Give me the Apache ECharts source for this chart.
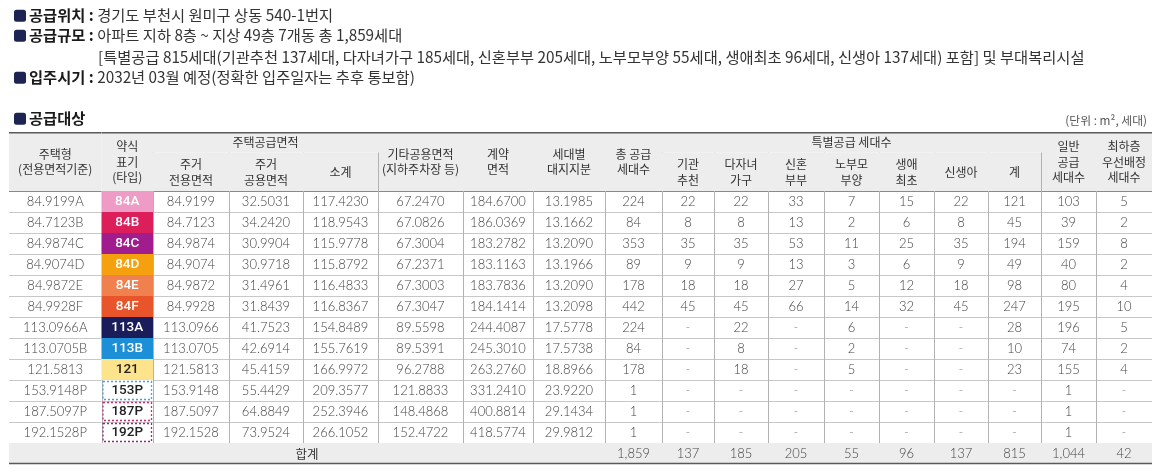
<!DOCTYPE html>
<html>
<head>
<meta charset="utf-8">
<script src="https://cdn.jsdelivr.net/npm/echarts@6/dist/echarts.min.js"></script>
<style>
  html, body { margin: 0; padding: 0; background: #fff; }
  #main { width: 1160px; height: 472px; }
</style>
</head>
<body>
<div id="main"></div>
<script>
// ---- 데이터 ----
const typeNames = ["84.9199A", "84.7123B", "84.9874C", "84.9074D", "84.9872E", "84.9928F",
  "113.0966A", "113.0705B", "121.5813", "153.9148P", "187.5097P", "192.1528P"];
const typeLabels = ["84A", "84B", "84C", "84D", "84E", "84F", "113A", "113B", "121", "153P", "187P", "192P"];
const privArea = [84.9199, 84.7123, 84.9874, 84.9074, 84.9872, 84.9928, 113.0966, 113.0705, 121.5813, 153.9148, 187.5097, 192.1528];
const commonArea = [32.5031, 34.2420, 30.9904, 30.9718, 31.4961, 31.8439, 41.7523, 42.6914, 45.4159, 55.4429, 64.8849, 73.9524];
const subTotal = [117.4230, 118.9543, 115.9778, 115.8792, 116.4833, 116.8367, 154.8489, 155.7619, 166.9972, 209.3577, 252.3946, 266.1052];
const otherCommon = [67.2470, 67.0826, 67.3004, 67.2371, 67.3003, 67.3047, 89.5598, 89.5391, 96.2788, 121.8833, 148.4868, 152.4722];
const contractArea = [184.6700, 186.0369, 183.2782, 183.1163, 183.7836, 184.1414, 244.4087, 245.3010, 263.2760, 331.2410, 400.8814, 418.5774];
const landShare = [13.1985, 13.1662, 13.2090, 13.1966, 13.2090, 13.2098, 17.5778, 17.5738, 18.8966, 23.9220, 29.1434, 29.9812];
const totalUnits = [224, 84, 353, 89, 178, 442, 224, 84, 178, 1, 1, 1];
const institution = [22, 8, 35, 9, 18, 45, null, null, null, null, null, null];
const multiChild = [22, 8, 35, 9, 18, 45, 22, 8, 18, null, null, null];
const newlywed = [33, 13, 53, 13, 27, 66, null, null, null, null, null, null];
const elderly = [7, 2, 11, 3, 5, 14, 6, 2, 5, null, null, null];
const firstLife = [15, 6, 25, 6, 12, 32, null, null, null, null, null, null];
const newborn = [22, 8, 35, 9, 18, 45, null, null, null, null, null, null];
const specialSum = [121, 45, 194, 49, 98, 247, 28, 10, 23, null, null, null];
const generalUnits = [103, 39, 159, 40, 80, 195, 196, 74, 155, 1, 1, 1];
const lowFloor = [5, 2, 8, 2, 4, 10, 5, 2, 4, null, null, null];
const sumRow = [1859, 137, 185, 205, 55, 96, 137, 815, 1044, 42];

const headMain = ["주택형\n(전용면적기준)", "약식\n표기\n(타입)", "주택공급면적", "기타공용면적\n(지하주차장 등)",
  "계약\n면적", "세대별\n대지지분", "총 공급\n세대수", "특별공급 세대수", "일반\n공급\n세대수", "최하층\n우선배정\n세대수"];
const headSub = ["주거\n전용면적", "주거\n공용면적", "소계",
  "기관\n추천", "다자녀\n가구", "신혼\n부부", "노부모\n부양", "생애\n최초", "신생아", "계"];

// ---- 레이아웃 ----
const colEdges = [0, 92.5, 144, 220, 294, 369, 454, 524, 596, 653, 705, 759, 815, 870, 925, 979, 1032, 1087, 1143];
const rowHeights = [20.5, 38.5, 21, 21, 21, 21, 21, 21, 21, 21, 21, 21, 21, 21, 20.5];
const rowEdges = [0];
rowHeights.forEach((h, i) => rowEdges.push(rowEdges[i] + h));
const nCol = colEdges.length - 1;

const typeStyle = [
  { bg: "#ee9cc6", color: "#fff" }, { bg: "#dc1f5b", color: "#fff" }, { bg: "#a11c8c", color: "#fff" },
  { bg: "#f5a00f", color: "#fff" }, { bg: "#f0814f", color: "#fff" }, { bg: "#e9552b", color: "#fff" },
  { bg: "#1b1d5a", color: "#fff" }, { bg: "#1d8fd6", color: "#fff" }, { bg: "#fde38c", color: "#222" },
  { dash: "#4aa3d8", color: "#222" }, { dash: "#c0306a", color: "#222" }, { dash: "#8b2a78", color: "#222" }
];

const KR = '"Noto Sans CJK KR"';
const headFont = "12px " + KR;
const numFont = '300 13px Lato, ' + KR;
const typeFont = '500 13.5px Roboto, ' + KR;

// ---- 셀 구성 ----
const cells = [];
function addCell(c0, c1, r0, r1, text, opt) {
  cells.push(Object.assign({ c0, c1, r0, r1, text }, opt));
}
const HEAD = { bg: "#ededed", font: headFont, color: "#333", lh: 15.5, kind: "head" };
// 머리글
addCell(0, 1, 0, 2, headMain[0], HEAD);
addCell(1, 2, 0, 2, headMain[1], HEAD);
addCell(2, 5, 0, 1, headMain[2], HEAD);
addCell(5, 6, 0, 2, headMain[3], HEAD);
addCell(6, 7, 0, 2, headMain[4], HEAD);
addCell(7, 8, 0, 2, headMain[5], HEAD);
addCell(8, 9, 0, 2, headMain[6], HEAD);
addCell(9, 16, 0, 1, headMain[7], HEAD);
addCell(16, 17, 0, 2, headMain[8], HEAD);
addCell(17, 18, 0, 2, headMain[9], HEAD);
[2, 3, 4].forEach((c, i) => addCell(c, c + 1, 1, 2, headSub[i], HEAD));
[9, 10, 11, 12, 13, 14, 15].forEach((c, i) => addCell(c, c + 1, 1, 2, headSub[i + 3], HEAD));

// 본문
const fmt4 = v => v.toFixed(4);
const fmtN = v => (v === null ? "-" : v.toLocaleString("en-US"));
const bodyCols = [
  typeNames, null, privArea.map(fmt4), commonArea.map(fmt4), subTotal.map(fmt4), otherCommon.map(fmt4),
  contractArea.map(fmt4), landShare.map(fmt4), totalUnits.map(fmtN), institution.map(fmtN), multiChild.map(fmtN),
  newlywed.map(fmtN), elderly.map(fmtN), firstLife.map(fmtN), newborn.map(fmtN), specialSum.map(fmtN),
  generalUnits.map(fmtN), lowFloor.map(fmtN)
];
typeNames.forEach((name, i) => {
  const r = i + 2;
  bodyCols.forEach((col, c) => {
    if (c === 1) {
      const st = typeStyle[i];
      addCell(c, c + 1, r, r + 1, typeLabels[i],
        { bg: st.bg, dash: st.dash, color: st.color, font: typeFont, kind: "type" });
    } else {
      const t = col[i];
      addCell(c, c + 1, r, r + 1, t,
        { font: numFont, color: t === "-" ? "#888" : "#444", kind: "body" });
    }
  });
});

// 합계
addCell(0, 8, 14, 15, "합계", { bg: "#ededed", font: "12.5px " + KR, color: "#333", kind: "total" });
sumRow.forEach((v, i) => addCell(8 + i, 9 + i, 14, 15, fmtN(v),
  { bg: "#ededed", font: numFont, color: "#444", kind: "total" }));

// ---- 렌더링 ----
const px = v => Math.round(v) + 0.5;
function line(x1, y1, x2, y2, stroke, w) {
  return { type: "line", shape: { x1, y1, x2, y2 }, style: { stroke, lineWidth: w } };
}
function renderCell(params, api) {
  const cell = cells[params.dataIndex];
  const a = api.coord([colEdges[api.value(0)], rowEdges[api.value(2)]]);
  const b = api.coord([colEdges[api.value(1)], rowEdges[api.value(3)]]);
  const x = a[0], y = a[1], w = b[0] - a[0], h = b[1] - a[1];
  const ch = [];
  if (cell.bg) ch.push({ type: "rect", shape: { x, y, width: w, height: h }, style: { fill: cell.bg } });
  if (cell.dash) {
    ch.push({ type: "rect", shape: { x: x + 1.5, y: y + 1.5, width: w - 3, height: h - 3 },
      style: { fill: "#fff", stroke: cell.dash, lineWidth: 1.3, lineDash: [2, 2] } });
  }
  if (cell.c1 < nCol) ch.push(line(px(x + w), y, px(x + w), y + h, "#b2b2b2", 1));
  let bColor = "#c8c8c8", bW = 1;
  if (cell.kind === "head") bColor = cell.r1 === 1 ? "#c2c2c2" : "#8a8a8a";
  if (cell.kind === "body" && cell.r1 === 14) bColor = "#8a8a8a";
  if (cell.kind === "type") bColor = cell.r1 === 14 ? "#8a8a8a" : (cell.bg ? "rgba(255,255,255,0.55)" : "#c8c8c8");
  if (cell.kind === "total") { bColor = "#5a5a5a"; bW = 1.6; }
  ch.push(line(x, bW === 1 ? px(y + h) : y + h, x + w, bW === 1 ? px(y + h) : y + h, bColor, bW));
  if (cell.r0 === 0) ch.push(line(x, y + 0.8, x + w, y + 0.8, "#5a5a5a", 1.6));
  ch.push({
    type: "text",
    style: {
      text: cell.text, x: x + w / 2, y: y + h / 2 + 0.5, align: "center", verticalAlign: "middle",
      fill: cell.color, font: cell.font, lineHeight: cell.lh || 15
    }
  });
  return { type: "group", children: ch };
}

// ---- 제목 ----
const TOP_SIZE = 15.3;
const bullet = { backgroundColor: "#1d2452", width: 12, height: 12, borderRadius: 2.5 };
const lbl = { fontWeight: "bold", color: "#1a1a1a", fontSize: TOP_SIZE, fontFamily: KR, padding: [0, 0, 0, 3] };
function infoTitle(top, left, text) {
  return {
    left, top, text,
    textStyle: { fontSize: TOP_SIZE, fontFamily: KR, color: "#333", fontWeight: "normal", rich: { b: bullet, l: lbl } }
  };
}

let chartDom = document.getElementById("main");
let myChart = echarts.init(chartDom);
let option = {
  animation: false,
  title: [
    infoTitle(3, 9, "{b| }{l|공급위치 :} 경기도 부천시 원미구 상동 540-1번지"),
    infoTitle(23, 9, "{b| }{l|공급규모 :} 아파트 지하 8층 ~ 지상 49층 7개동 총 1,859세대"),
    infoTitle(45, 93, "[특별공급 815세대(기관추천 137세대, 다자녀가구 185세대, 신혼부부 205세대, 노부모부양 55세대, 생애최초 96세대, 신생아 137세대) 포함] 및 부대복리시설"),
    infoTitle(65, 9, "{b| }{l|입주시기 :} 2032년 03월 예정(정확한 입주일자는 추후 통보함)"),
    infoTitle(106, 9, "{b| }{l|공급대상}"),
    {
      right: 8, top: 110, text: "(단위 : m², 세대)",
      textStyle: { fontSize: 11.8, fontFamily: KR, color: "#555", fontWeight: "normal" }
    }
  ],
  grid: { left: 9, right: 8, top: 132, bottom: 8.5 },
  xAxis: { type: "value", min: 0, max: colEdges[nCol], show: false },
  yAxis: { type: "value", min: 0, max: rowEdges[rowEdges.length - 1], inverse: true, show: false },
  series: [{
    type: "custom",
    clip: false,
    silent: true,
    encode: { x: [0, 1], y: [2, 3] },
    renderItem: renderCell,
    data: cells.map(c => [c.c0, c.c1, c.r0, c.r1])
  }]
};
option && myChart.setOption(option);
</script>
</body>
</html>
